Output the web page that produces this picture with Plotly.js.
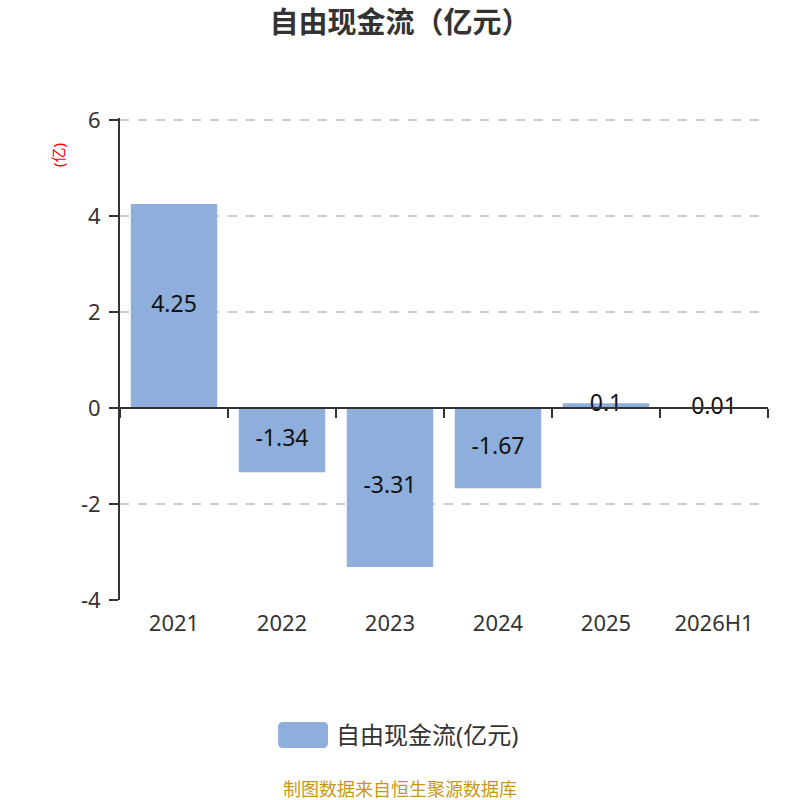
<!DOCTYPE html>
<html><head><meta charset="utf-8">
<script src="https://cdn.plot.ly/plotly-3.0.1.min.js"></script>
<style>body{margin:0;background:#fff}#c{width:800px;height:800px}</style>
</head><body><div id="c"></div>
<script>
var categories = ['2021','2022','2023','2024','2025','2026H1'];
var values = [4.25, -1.34, -3.31, -1.67, 0.1, 0.01];
var labels = ['4.25','-1.34','-3.31','-1.67','0.1','0.01'];
var seriesName = '自由现金流(亿元)';
var yRange = [-4, 6.0417];
var yTicks = [-4, -2, 0, 2, 4, 6];
var yTickText = ['-4', '-2', '0', '2', '4', '6'];

var font = '"Noto Sans","Noto Sans CJK SC",sans-serif';
var barColor = '#8eaedb';
var traces = [
  {type:'bar', x:categories, y:values, name:seriesName,
   marker:{color:barColor}, hoverinfo:'skip', showlegend:false},
  {type:'scatter', mode:'text', x:categories, y:values.map(function(v){return v/2;}),
   text:labels, textposition:'middle center', showlegend:false,
   textfont:{size:23, color:'#111', family:font}, hoverinfo:'skip'},
  {type:'scatter', mode:'markers', x:categories, y:values.map(function(){return 0;}),
   xaxis:'x2', marker:{opacity:0}, showlegend:false, hoverinfo:'skip'}
];
var zeroPos = (0 - yRange[0]) / (yRange[1] - yRange[0]);

// legend swatch (rounded rectangle) in paper coords
var x0 = 0.244, x1 = 0.321, y0 = -0.307, y1 = -0.253, rx = 0.0077, ry = 0.0104;
var swatch = 'M ' + (x0+rx) + ',' + y1 + ' L ' + (x1-rx) + ',' + y1 +
  ' Q ' + x1 + ',' + y1 + ' ' + x1 + ',' + (y1-ry) +
  ' L ' + x1 + ',' + (y0+ry) + ' Q ' + x1 + ',' + y0 + ' ' + (x1-rx) + ',' + y0 +
  ' L ' + (x0+rx) + ',' + y0 + ' Q ' + x0 + ',' + y0 + ' ' + x0 + ',' + (y0+ry) +
  ' L ' + x0 + ',' + (y1-ry) + ' Q ' + x0 + ',' + y1 + ' ' + (x0+rx) + ',' + y1 + ' Z';

var layout = {
  width:800, height:800,
  margin:{l:120, r:32, t:118, b:200},
  paper_bgcolor:'#fff', plot_bgcolor:'#fff',
  font:{family:font, color:'#333'},
  title:{text:'<b>自由现金流（亿元）</b>', x:0.5, xanchor:'center', y:0.972, yanchor:'middle',
         font:{size:29, color:'#333', family:font}},
  bargap:0.2,
  xaxis:{type:'category', showline:false, ticks:'', showgrid:false, zeroline:false,
         tickfont:{size:22, color:'#333'}, ticklabelstandoff:8, fixedrange:true},
  xaxis2:{type:'category', overlaying:'x', matches:'x', anchor:'free', position:zeroPos, side:'bottom',
          showline:true, linecolor:'#333', linewidth:2, ticks:'outside', ticklen:9, tickwidth:2,
          tickcolor:'#333', tickson:'boundaries', showticklabels:false, showgrid:false, zeroline:false},
  yaxis:{range:yRange, tickvals:yTicks, ticktext:yTickText,
         showline:true, linecolor:'#333', linewidth:2,
         ticks:'outside', ticklen:9, tickwidth:2, tickcolor:'#333',
         showgrid:true, gridcolor:'#cccccc', griddash:'dash', gridwidth:1.5, zeroline:false,
         tickfont:{size:22, color:'#333'}, ticklabelstandoff:4},
  showlegend:false,
  shapes:[{type:'path', xref:'paper', yref:'paper', path:swatch,
           fillcolor:barColor, line:{width:0}}],
  annotations:[
    {text:'(亿)', xref:'paper', yref:'paper', x:-0.0957, y:0.923, textangle:-90,
     xanchor:'center', yanchor:'middle', showarrow:false,
     font:{size:15, color:'#ff0000', family:font}},
    {text:seriesName, xref:'paper', yref:'paper', x:0.33, y:-0.280,
     xanchor:'left', yanchor:'middle', showarrow:false,
     font:{size:24, color:'#333', family:font}},
    {text:'制图数据来自恒生聚源数据库', xref:'paper', yref:'paper', x:0.432, y:-0.392,
     xanchor:'center', yanchor:'middle', showarrow:false,
     font:{size:18, color:'#c8961e', family:font}}]
};
Plotly.newPlot('c', traces, layout, {displayModeBar:false, staticPlot:true});
</script></body></html>
